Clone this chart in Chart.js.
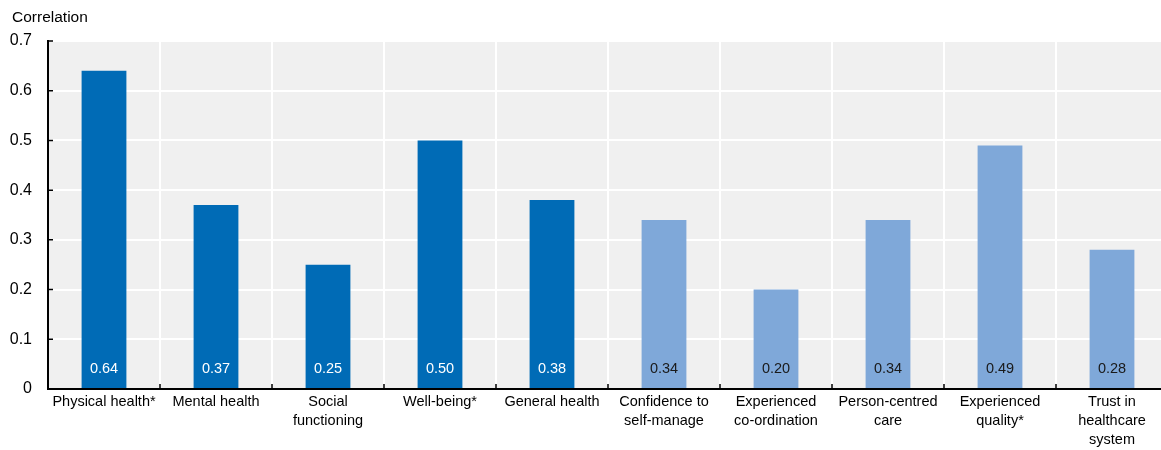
<!DOCTYPE html>
<html>
<head>
<meta charset="utf-8">
<style>
  html, body { margin: 0; padding: 0; background: #fff; overflow: hidden; }
  #wrap { position: absolute; left: 0; top: 0; width: 1168px; height: 450px; }
</style>
<script src="https://cdn.jsdelivr.net/npm/chart.js@4"></script>
</head>
<body>
<div id="wrap"><canvas id="chart" width="1168" height="450"></canvas></div>
<script>
// Correlation of each measure, one bar per category
const categories = [
  'Physical health*',
  'Mental health',
  ['Social', 'functioning'],
  'Well-being*',
  'General health',
  ['Confidence to', 'self-manage'],
  ['Experienced', 'co-ordination'],
  ['Person-centred', 'care'],
  ['Experienced', 'quality*'],
  ['Trust in', 'healthcare', 'system']
];
const correlations = [0.64, 0.37, 0.25, 0.50, 0.38, 0.34, 0.20, 0.34, 0.49, 0.28];
const measureGroup = ['outcome', 'outcome', 'outcome', 'outcome', 'outcome',
                      'experience', 'experience', 'experience', 'experience', 'experience'];
const yTickLabels = ['0', '0.1', '0.2', '0.3', '0.4', '0.5', '0.6', '0.7'];
const axisTitle = 'Correlation';

const FONT = '"Liberation Sans", Arial, Helvetica, sans-serif';
const groupColor = { outcome: '#006BB6', experience: '#7FA8D9' };
const labelColor = { outcome: '#FFFFFF', experience: '#1A1A1A' };

// Grey plot panel, axis title, inward tick stubs and in-bar value labels
const decorations = {
  id: 'decorations',
  beforeDraw(chart) {
    const { ctx, chartArea: a } = chart;
    ctx.save();
    ctx.fillStyle = '#F0F0F0';
    ctx.fillRect(a.left, a.top, a.right - a.left, a.bottom - a.top);
    ctx.fillStyle = '#000';
    ctx.font = '15.5px ' + FONT;
    ctx.textAlign = 'left';
    ctx.textBaseline = 'middle';
    ctx.fillText(axisTitle, 12, 18);
    ctx.restore();
  },
  afterDatasetsDraw(chart) {
    const { ctx, chartArea: a, scales } = chart;
    const x = scales.x, y = scales.y;
    ctx.save();
    ctx.strokeStyle = '#000';
    ctx.lineWidth = 1.5;
    ctx.beginPath();
    y.ticks.forEach(t => {
      const py = y.getPixelForValue(t.value);
      ctx.moveTo(a.left, py);
      ctx.lineTo(a.left + 5, py);
    });
    const n = categories.length;
    const step = (a.right - a.left) / n;
    for (let i = 1; i < n; i++) {
      const px = Math.round(a.left + i * step);
      ctx.moveTo(px, a.bottom);
      ctx.lineTo(px, a.bottom - 5);
    }
    ctx.stroke();

    const meta = chart.getDatasetMeta(0);
    const zeroY = y.getPixelForValue(0);
    ctx.font = '14.5px ' + FONT;
    ctx.textAlign = 'center';
    ctx.textBaseline = 'middle';
    meta.data.forEach((bar, i) => {
      ctx.fillStyle = labelColor[measureGroup[i]];
      ctx.fillText(correlations[i].toFixed(2), bar.x, zeroY - 20);
    });
    ctx.restore();
  }
};

new Chart(document.getElementById('chart'), {
  type: 'bar',
  data: {
    labels: categories,
    datasets: [{
      data: correlations,
      backgroundColor: measureGroup.map(g => groupColor[g]),
      borderWidth: 0,
      barPercentage: 0.4,
      categoryPercentage: 1.0
    }]
  },
  options: {
    responsive: false,
    animation: false,
    events: [],
    layout: { padding: { top: 41, left: 0, right: 0, bottom: 0 } },
    plugins: {
      legend: { display: false },
      tooltip: { enabled: false },
      title: { display: false }
    },
    scales: {
      x: {
        offset: true,
        grid: { color: '#FFFFFF', lineWidth: 2, drawTicks: false, offset: true },
        border: { color: '#000', width: 2 },
        ticks: {
          color: '#000',
          font: { family: FONT, size: 14.5, lineHeight: 1.3 },
          padding: 4,
          maxRotation: 0,
          autoSkip: false
        },
        afterFit(scale) { scale.height = 61; }
      },
      y: {
        min: 0,
        max: 0.7,
        grid: { color: '#FFFFFF', lineWidth: 2, drawTicks: false },
        border: { color: '#000', width: 2 },
        ticks: {
          stepSize: 0.1,
          color: '#000',
          padding: 16,
          font: { family: FONT, size: 16 },
          callback: (v, i) => yTickLabels[i]
        },
        afterFit(scale) { scale.width = 48; }
      }
    }
  },
  plugins: [decorations]
});
</script>
</body>
</html>
